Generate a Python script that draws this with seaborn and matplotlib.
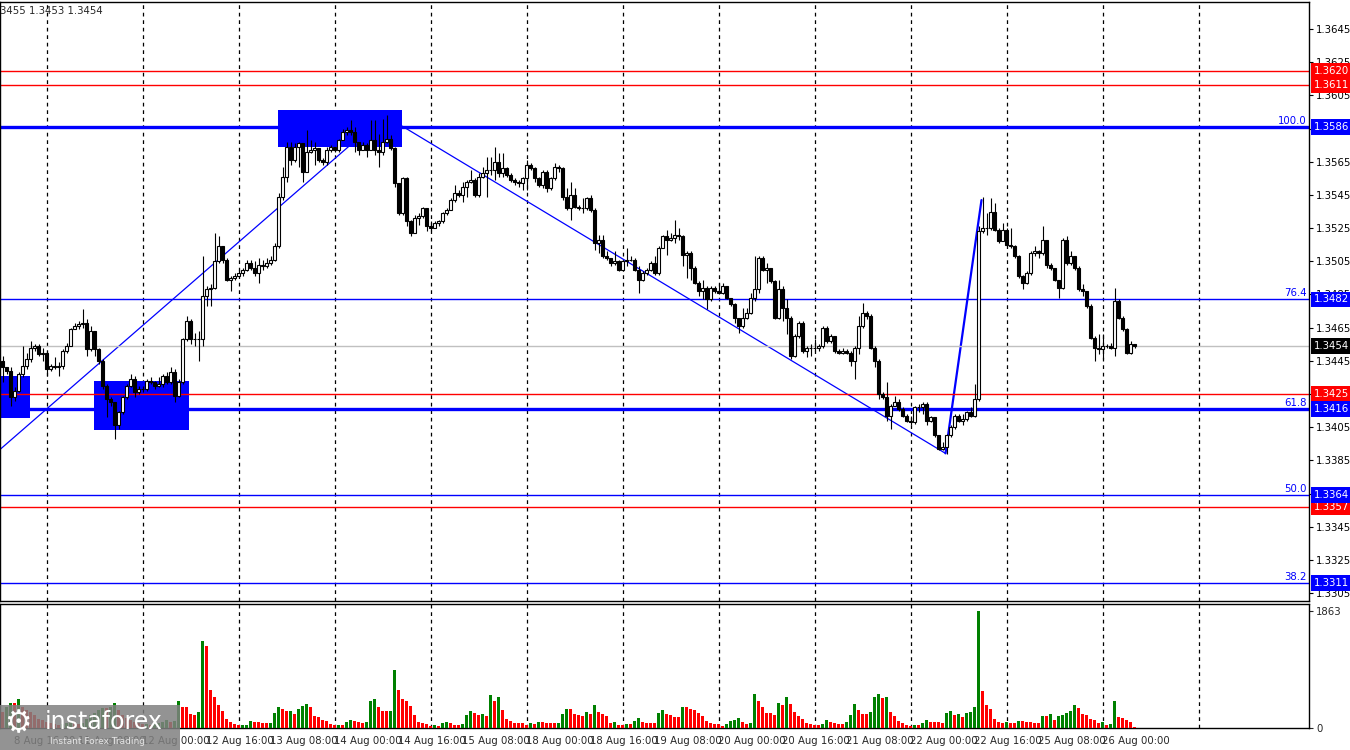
import numpy as np
import pandas as pd
import matplotlib
matplotlib.use("Agg")
import matplotlib.pyplot as plt
import matplotlib.transforms as mtransforms
from matplotlib.patches import Rectangle
import seaborn as sns

# GBPUSD H1 bars, prices written as pips above 1.3000
open0 = 445
closes = [441, 439, 423, 427, 437, 442, 446, 453, 454, 449,
          450, 440, 442, 441, 442, 451, 454, 464, 466, 467,
          468, 452, 463, 452, 445, 430, 422, 420, 406, 414,
          423, 430, 434, 426, 428, 428, 433, 432, 430, 431,
          436, 432, 438, 424, 432, 458, 469, 458, 458, 458,
          484, 488, 489, 505, 514, 506, 494, 495, 496, 498,
          500, 504, 501, 498, 503, 502, 504, 506, 514, 544,
          556, 574, 566, 574, 576, 559, 571, 572, 573, 566,
          565, 572, 574, 572, 578, 583, 584, 583, 577, 572,
          575, 572, 578, 572, 571, 577, 579, 573, 552, 534,
          555, 529, 522, 531, 532, 537, 526, 525, 528, 529,
          534, 536, 542, 546, 545, 550, 553, 554, 545, 556,
          558, 560, 560, 565, 558, 561, 557, 554, 553, 552,
          555, 563, 561, 555, 551, 559, 549, 555, 562, 561,
          544, 537, 545, 538, 537, 537, 543, 536, 516, 518,
          508, 507, 504, 505, 500, 505, 506, 506, 500, 494,
          498, 500, 504, 498, 513, 520, 518, 519, 521, 520,
          509, 510, 501, 492, 487, 489, 482, 489, 487, 486,
          490, 483, 479, 471, 466, 471, 474, 483, 488, 507,
          500, 501, 493, 471, 488, 477, 471, 448, 460, 468,
          451, 453, 453, 453, 454, 465, 457, 460, 451, 450,
          451, 450, 445, 453, 466, 474, 472, 453, 445, 425,
          423, 412, 418, 420, 416, 412, 409, 408, 417, 417,
          419, 409, 411, 400, 392, 393, 400, 405, 412, 409,
          410, 414, 412, 422, 523, 525, 525, 535, 524, 517,
          524, 515, 514, 508, 496, 492, 498, 510, 511, 510,
          518, 503, 501, 494, 489, 518, 504, 508, 501, 488,
          487, 478, 459, 453, 452, 454, 454, 453, 481, 471,
          464, 450, 455, 454]
highs = [448, 441, 441, 429, 438, 454, 450, 457, 455, 455,
         453, 451, 443, 447, 444, 452, 456, 465, 468, 469,
         476, 470, 466, 463, 453, 446, 431, 423, 420, 415,
         424, 431, 437, 436, 430, 430, 434, 435, 433, 435,
         437, 438, 441, 440, 434, 459, 472, 470, 462, 463,
         508, 490, 491, 522, 520, 514, 507, 496, 498, 500,
         501, 506, 506, 505, 507, 506, 507, 508, 516, 546,
         562, 577, 577, 576, 577, 576, 584, 578, 577, 573,
         567, 574, 575, 574, 579, 585, 586, 590, 586, 577,
         577, 576, 590, 590, 582, 591, 593, 581, 574, 552,
         556, 556, 530, 533, 534, 538, 537, 529, 529, 530,
         535, 537, 543, 551, 548, 553, 554, 560, 555, 558,
         562, 568, 568, 574, 570, 570, 562, 558, 555, 554,
         556, 566, 564, 562, 556, 560, 560, 556, 564, 563,
         562, 549, 553, 549, 539, 543, 544, 545, 537, 521,
         521, 511, 507, 511, 506, 506, 513, 508, 507, 502,
         499, 501, 505, 508, 514, 521, 524, 522, 530, 525,
         521, 511, 511, 502, 493, 494, 490, 490, 490, 492,
         492, 490, 483, 480, 471, 477, 477, 486, 508, 508,
         508, 504, 501, 494, 494, 490, 482, 472, 461, 469,
         469, 454, 455, 458, 455, 466, 466, 461, 460, 452,
         453, 452, 451, 454, 472, 480, 475, 473, 454, 446,
         426, 432, 419, 424, 422, 417, 413, 412, 418, 419,
         420, 420, 412, 411, 400, 396, 401, 406, 413, 413,
         413, 415, 417, 431, 526, 544, 534, 543, 540, 525,
         528, 525, 525, 515, 509, 497, 499, 511, 514, 512,
         526, 518, 504, 501, 494, 519, 520, 511, 508, 502,
         491, 487, 479, 460, 461, 461, 455, 456, 489, 482,
         472, 465, 457, 455]
lows = [432, 437, 418, 421, 426, 435, 440, 444, 451, 448,
        445, 436, 439, 440, 436, 440, 450, 454, 464, 464,
        465, 448, 451, 448, 443, 428, 411, 418, 398, 404,
        413, 422, 429, 423, 425, 426, 427, 431, 428, 429,
        429, 431, 431, 420, 423, 431, 457, 455, 454, 445,
        454, 478, 478, 488, 504, 504, 493, 487, 494, 496,
        496, 499, 500, 496, 492, 500, 501, 503, 505, 513,
        542, 553, 563, 565, 562, 553, 559, 570, 563, 565,
        563, 563, 571, 571, 571, 578, 581, 581, 571, 569,
        572, 568, 572, 569, 562, 569, 576, 572, 550, 533,
        533, 526, 520, 522, 527, 531, 523, 523, 525, 526,
        528, 533, 536, 541, 544, 541, 544, 552, 544, 544,
        555, 544, 557, 554, 556, 556, 556, 553, 551, 550,
        548, 548, 560, 553, 550, 549, 547, 548, 554, 559,
        542, 536, 530, 537, 536, 534, 536, 535, 512, 510,
        507, 506, 502, 503, 499, 499, 502, 505, 499, 486,
        493, 497, 499, 497, 497, 513, 509, 517, 516, 518,
        502, 495, 494, 491, 484, 482, 476, 481, 486, 485,
        485, 482, 478, 468, 462, 465, 470, 473, 481, 486,
        499, 492, 492, 470, 470, 469, 461, 446, 447, 459,
        450, 447, 448, 451, 451, 453, 456, 456, 450, 449,
        449, 449, 442, 434, 449, 465, 470, 452, 441, 422,
        422, 409, 404, 418, 415, 411, 408, 406, 407, 414,
        413, 406, 408, 399, 391, 391, 389, 399, 404, 408,
        406, 409, 411, 411, 421, 522, 521, 524, 523, 516,
        517, 514, 513, 507, 495, 488, 491, 497, 508, 507,
        509, 501, 500, 493, 483, 488, 503, 503, 500, 487,
        484, 477, 458, 445, 449, 446, 453, 452, 448, 470,
        463, 449, 449, 453]
volumes = [250, 330, 400, 400, 460, 330, 280, 250, 200, 150,
           120, 100, 80, 60, 50, 60, 80, 110, 90, 70,
           85, 150, 200, 240, 280, 320, 320, 330, 400, 290,
           210, 160, 130, 100, 80, 60, 70, 55, 65, 80,
           100, 120, 90, 110, 423, 328, 328, 227, 201, 249,
           1375, 1296, 608, 492, 370, 265, 148, 95, 63, 42,
           53, 55, 116, 100, 100, 79, 79, 80, 243, 328,
           300, 265, 275, 227, 300, 354, 380, 328, 185, 175,
           122, 106, 69, 42, 53, 53, 95, 132, 106, 95,
           85, 90, 423, 466, 328, 265, 265, 275, 926, 608,
           466, 434, 344, 212, 95, 79, 69, 37, 53, 37,
           79, 90, 79, 53, 42, 69, 212, 275, 238, 212,
           227, 196, 529, 434, 497, 291, 148, 106, 85, 85,
           85, 53, 79, 69, 95, 95, 85, 85, 74, 85,
           227, 307, 307, 227, 201, 185, 259, 227, 370, 259,
           227, 196, 85, 100, 48, 48, 69, 69, 116, 164,
           100, 85, 85, 85, 243, 291, 227, 212, 180, 180,
           339, 339, 307, 286, 243, 196, 116, 85, 69, 69,
           37, 69, 116, 132, 164, 100, 69, 85, 545, 434,
           339, 243, 243, 212, 402, 370, 497, 386, 259, 196,
           148, 85, 69, 53, 53, 69, 132, 100, 85, 69,
           69, 100, 212, 386, 291, 227, 227, 259, 497, 540,
           481, 497, 259, 196, 116, 79, 48, 26, 53, 53,
           85, 132, 100, 100, 100, 85, 243, 275, 212, 227,
           180, 243, 259, 339, 1863, 592, 370, 307, 148, 100,
           85, 100, 85, 85, 116, 116, 100, 100, 85, 85,
           196, 196, 227, 132, 196, 212, 243, 275, 370, 323,
           227, 212, 148, 132, 85, 100, 53, 69, 434, 180,
           164, 132, 100, 11]

red_levels = [1.3620, 1.3611, 1.3425, 1.3357]
blue_thick = [1.3586, 1.3416]
blue_thin = [1.3482, 1.3364, 1.3311]
fib_levels = [1.3586, 1.3482, 1.3416, 1.3364, 1.3311]
fib_texts = ["100.0", "76.4", "61.8", "50.0", "38.2"]
last_price = 1.3454
vol_max = 1863

# zones: bar from, bar to, price low, price high
zones = [(-0.5, 6.75, 1.34105, 1.3436),
         (22.75, 46.5, 1.3403, 1.3433),
         (68.75, 99.75, 1.3574, 1.3596)]
# trend lines: (bar, price) -> (bar, price), width
trends = [((-0.5, 1.33918), (86.5, 1.35741), 0.9),
          ((99.9, 1.35865), (235.75, 1.33892), 0.9),
          ((235.75, 1.33892), (244.75, 1.35419), 1.6)]

times = pd.date_range("2025-08-08 13:00", "2025-08-26 08:00", freq="h")
times = times[times.dayofweek < 5]
n = len(closes)
idx = np.arange(n)

c = 1.3 + np.array(closes) / 10000
o = 1.3 + np.array([open0] + closes[:-1]) / 10000
h = 1.3 + np.array(highs) / 10000
l = 1.3 + np.array(lows) / 10000

sns.set_style("white")
plt.rcParams["font.family"] = ["DejaVu Sans"]
fs = 7.3

fig = plt.figure(figsize=(13.5, 7.5), dpi=100)
ax = fig.add_axes([0, 1 - 601 / 750, 1309 / 1350, 599 / 750])
axv = fig.add_axes([0, 1 - 728 / 750, 1309 / 1350, 124 / 750])
# 4 px per bar, bar edges on whole pixels
xmin, xmax = -0.625, 326.625

# day separators
day_idx = list(idx[(times.hour == 0)])
day_idx.append(day_idx[-1] + 24)
for a in (ax, axv):
    for d in day_idx:
        a.axvline(d, color="black", lw=0.9, ls=(0, (3, 3)), zorder=1)

for x0, x1, p0, p1 in zones:
    ax.add_patch(Rectangle((x0, p0), x1 - x0, p1 - p0, color="#0000ff", lw=0, zorder=2))
for (xa, ya), (xb, yb), w in trends:
    ax.plot([xa, xb], [ya, yb], color="#0000ff", lw=w, zorder=1.5)

for lv in red_levels:
    ax.axhline(lv, color="#ff0000", lw=1, zorder=2.5)
for lv in blue_thick:
    ax.axhline(lv, color="#0000ff", lw=2.4, zorder=2.5)
for lv in blue_thin:
    ax.axhline(lv, color="#0000ff", lw=1, zorder=2.5)
ax.axhline(last_price, color="#c0c0c0", lw=1, zorder=2.5)

# candles
up = c >= o
ax.vlines(idx, l, h, color="black", lw=0.8, zorder=3)
ax.bar(idx, np.abs(c - o), bottom=np.minimum(o, c), width=0.62,
       color=np.where(up, "white", "black"), edgecolor="black", linewidth=0.8, zorder=4)

for lv, t in zip(fib_levels, fib_texts):
    ax.text(326.0, lv + 0.00006, t, ha="right", va="bottom", color="#0000ff", fontsize=fs, zorder=5)

ax.set_xlim(xmin, xmax)
ax.set_ylim(1.33002, 1.36613)
ax.set_xticks([])
ax.yaxis.tick_right()
ax.set_yticks(np.arange(1.3305, 1.3646, 0.002))
ax.yaxis.set_major_formatter(plt.FormatStrFormatter("%.4f"))
ax.tick_params(axis="y", length=3, width=0.8, pad=2, labelsize=fs, colors="black")

trans = mtransforms.blended_transform_factory(ax.transAxes, ax.transData)
boxes = [(lv, "#ff0000") for lv in red_levels] + [(lv, "#0000ff") for lv in blue_thick + blue_thin]
boxes.append((last_price, "black"))
for lv, col in boxes:
    ax.text(1.0035, lv, f"{lv:.4f}", transform=trans, ha="left", va="center", color="white",
            fontsize=fs, clip_on=False, zorder=10,
            bbox=dict(boxstyle="square,pad=0.28", fc=col, ec="none"))

# volumes, green when above the previous bar
prev = np.r_[np.inf, volumes[:-1]]
vdf = pd.DataFrame({"bar": idx, "vol": volumes,
                    "dir": np.where(np.array(volumes) > prev, "up", "down")})
sns.barplot(data=vdf, x="bar", y="vol", hue="dir", palette={"up": "#008000", "down": "#ff0000"},
            native_scale=True, dodge=False, width=0.75, saturation=1, errorbar=None,
            legend=False, ax=axv, zorder=3, linewidth=0, antialiased=False)
axv.set_xlim(xmin, xmax)
axv.set_ylim(0, 1968)
axv.set_xlabel("")
axv.set_ylabel("")
axv.yaxis.tick_right()
axv.set_yticks([0, vol_max])
axv.set_yticklabels(["0", str(vol_max)])
axv.tick_params(axis="y", length=3, width=0.8, pad=2, labelsize=fs)
lab_idx = idx[3::16]
axv.set_xticks(lab_idx)
axv.set_xticklabels([f"{t.day} {t:%b %H:%M}" for t in times[lab_idx]], ha="left", fontsize=fs)
axv.tick_params(axis="x", length=4, width=0.8, pad=2)

for a in (ax, axv):
    for s in a.spines.values():
        s.set_color("black")
        s.set_linewidth(1)

fig.text(0.0, 1 - 11 / 750, "3455 1.3453 1.3454", va="center", ha="left", fontsize=fs)

# watermark
fig.patches.append(Rectangle((0, 0), 180 / 1350, 45 / 750, transform=fig.transFigure,
                             fc="#808080", alpha=0.85, lw=0, zorder=20))
fig.text(4 / 1350, 1 - 724 / 750, "\u2699", color="white", fontsize=22, va="center", zorder=21)
fig.text(45 / 1350, 1 - 722 / 750, "instaforex", color="white", fontsize=17, va="center", zorder=21)
fig.text(50 / 1350, 1 - 741 / 750, "Instant Forex Trading", color="#e6e6e6", fontsize=6.5,
         va="center", zorder=21)

fig.savefig("out.png", dpi=100, facecolor="white")
